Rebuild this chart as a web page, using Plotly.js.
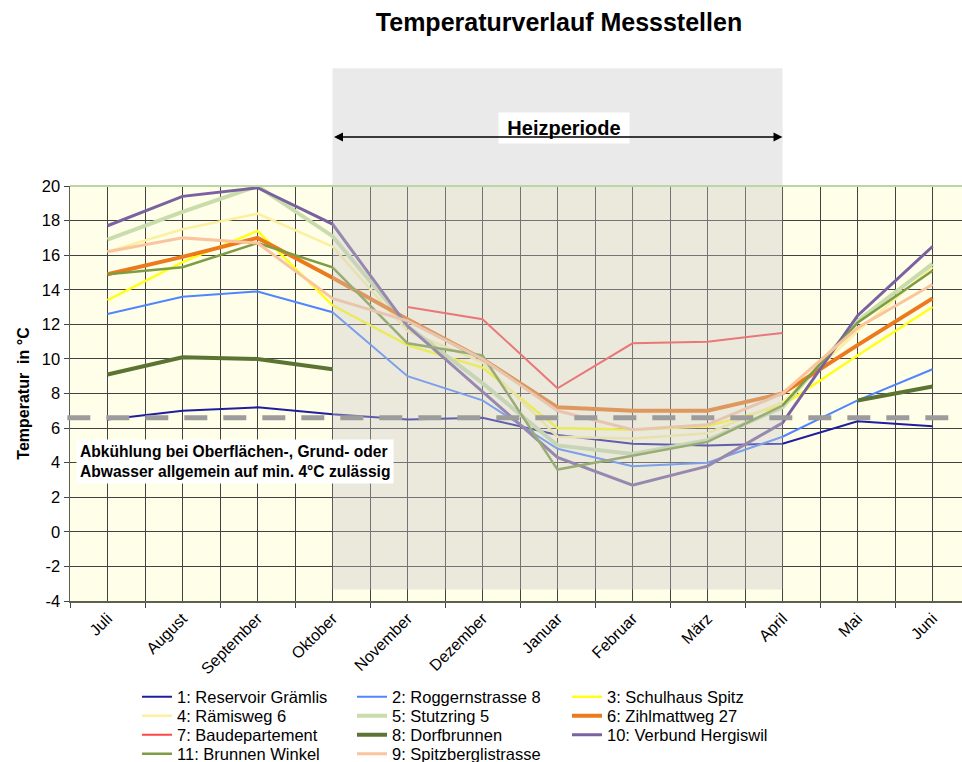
<!DOCTYPE html>
<html>
<head>
<meta charset="utf-8">
<script src="https://cdn.plot.ly/plotly-3.0.1.min.js"></script>
<style>html,body{margin:0;padding:0;background:#fff;}#chart{width:962px;height:762px;}</style>
</head>
<body>
<div id="chart"></div>
<script>
const months = ['Juli','August','September','Oktober','November','Dezember','Januar','Februar','März','April','Mai','Juni'];
const yTicks = [-4, -2, 0, 2, 4, 6, 8, 10, 12, 14, 16, 18, 20];

const reservoirGraemlis   = [6.5, 7.0, 7.2, 6.8, 6.5, 6.6, 5.6, 5.1, 5.0, 5.1, 6.4, 6.1];
const roggernstrasse8     = [12.6, 13.6, 13.9, 12.7, 9.0, 7.6, 4.8, 3.8, 4.0, 5.5, 7.6, 9.4];
const schulhausSpitz      = [13.4, 15.6, 17.4, 13.1, 10.8, 9.5, 6.0, 5.9, 6.1, 7.3, 10.2, 13.0];
const raemisweg6          = [16.2, 17.5, 18.4, 16.5, 11.6, 9.8, 5.5, 5.4, 5.7, 7.5, 11.6, 15.3];
const stutzring5          = [16.9, 18.5, 20.0, 17.1, 11.9, 8.6, 5.0, 4.5, 5.3, 7.2, 12.2, 15.5];
const zihlmattweg27       = [14.9, 15.9, 17.0, 14.7, 12.3, 10.0, 7.2, 7.0, 7.0, 8.0, 10.8, 13.5];
const baudepartement      = [null, null, null, null, 13.0, 12.3, 8.3, 10.9, 11.0, 11.5, null, null];
const dorfbrunnen         = [9.1, 10.1, 10.0, 9.4, null, null, null, null, null, null, 7.6, 8.4];
const verbundHergiswil    = [17.7, 19.4, 19.9, 17.8, 11.9, 8.1, 4.3, 2.7, 3.8, 6.3, 12.5, 16.5];
const brunnenWinkel       = [14.9, 15.3, 16.7, 15.3, 10.9, 10.2, 3.6, 4.4, 5.2, 7.3, 12.1, 15.1];
const spitzberglistrasse  = [16.2, 17.0, 16.7, 13.5, 12.2, 10.0, 7.0, 5.9, 6.2, 8.0, 11.8, 14.3];

const limitValue = 6.6;
const heatStart = 'Oktober';
const heatEnd = 'April';

const FONT = 'Liberation Sans, Arial, Helvetica, sans-serif';

const series = [
  {name: '1: Reservoir Grämlis', y: reservoirGraemlis, color: '#1F1F9E', width: 2, legend: 'legend'},
  {name: '2: Roggernstrasse 8', y: roggernstrasse8, color: '#4F86FF', width: 2, legend: 'legend'},
  {name: '3: Schulhaus Spitz', y: schulhausSpitz, color: '#FFFF1A', width: 2.5, legend: 'legend'},
  {name: '4: Rämisweg 6', y: raemisweg6, color: '#FBF0A0', width: 2.5, legend: 'legend2'},
  {name: '5: Stutzring 5', y: stutzring5, color: '#C9DCAB', width: 4, legend: 'legend2'},
  {name: '6: Zihlmattweg 27', y: zihlmattweg27, color: '#EC7A1C', width: 4, legend: 'legend2'},
  {name: '7: Baudepartement', y: baudepartement, color: '#FF4646', width: 2, legend: 'legend3'},
  {name: '8: Dorfbrunnen', y: dorfbrunnen, color: '#5C7433', width: 4, legend: 'legend3'},
  {name: '10: Verbund Hergiswil', y: verbundHergiswil, color: '#7A62A0', width: 3, legend: 'legend3'},
  {name: '11: Brunnen Winkel', y: brunnenWinkel, color: '#7D9C43', width: 2.5, legend: 'legend4'},
  {name: '9: Spitzberglistrasse', y: spitzberglistrasse, color: '#FAC49E', width: 3, legend: 'legend4'}
];

const data = series.map(s => ({
  type: 'scatter', mode: 'lines', x: months, y: s.y, name: s.name,
  legend: s.legend, connectgaps: false,
  line: {color: s.color, width: s.width}
}));

const gridColor = '#424242';
const centerGrid = months.map(m => ({
  type: 'line', xref: 'x', yref: 'paper', x0: m, x1: m, y0: 0, y1: 1,
  layer: 'between', line: {color: gridColor, width: 1}
}));

const legendBase = {
  orientation: 'h', xref: 'container', yref: 'container',
  x: 137/962, xanchor: 'left', yanchor: 'middle',
  entrywidth: 170, entrywidthmode: 'pixels',
  bgcolor: 'rgba(0,0,0,0)', borderwidth: 0,
  font: {family: FONT, size: 16.5, color: '#000'},
  itemclick: false
};

const layout = {
  width: 962, height: 762,
  margin: {l: 70, r: 0, t: 186, b: 161},
  paper_bgcolor: '#ffffff',
  plot_bgcolor: '#FFFEE9',
  font: {family: FONT, color: '#000'},
  title: {
    text: '<b>Temperaturverlauf Messstellen</b>',
    font: {family: FONT, size: 25, color: '#000'},
    xref: 'container', yref: 'container', x: 559/962, xanchor: 'center',
    y: 1 - 22/762, yanchor: 'middle'
  },
  xaxis: {
    type: 'category', range: [-0.5, 11.393], fixedrange: true,
    tickson: 'boundaries', showgrid: true, gridcolor: gridColor, gridwidth: 1,
    ticks: 'outside', ticklen: 5, tickcolor: '#444', tickangle: -45,
    tickfont: {family: FONT, size: 16, color: '#000'},
    showline: true, linecolor: '#5d604e', linewidth: 2,
    zeroline: false
  },
  yaxis: {
    range: [-4, 20], tickmode: 'array', tickvals: yTicks, ticktext: yTicks.map(v => String(v)),
    fixedrange: true,
    showgrid: true, gridcolor: gridColor, gridwidth: 1,
    ticks: 'outside', ticklen: 5, tickcolor: '#444',
    tickfont: {family: FONT, size: 16.5, color: '#000'},
    showline: true, linecolor: '#5d604e', linewidth: 1.5,
    zeroline: false,
    title: {text: '<b>Temperatur  in °C</b>', font: {family: FONT, size: 16, color: '#000'}, standoff: 8}
  },
  showlegend: true,
  legend: Object.assign({}, legendBase, {y: 1 - 697/762}),
  legend2: Object.assign({}, legendBase, {y: 1 - 716/762}),
  legend3: Object.assign({}, legendBase, {y: 1 - 735/762}),
  legend4: Object.assign({}, legendBase, {y: 1 - 754/762}),
  shapes: centerGrid.concat([
    {type: 'rect', xref: 'x', yref: 'paper', x0: heatStart, x1: heatEnd,
     y0: 0.028, y1: 1.284, layer: 'above', line: {width: 0},
     fillcolor: 'rgba(200,200,200,0.38)'},
    {type: 'line', xref: 'paper', yref: 'y', x0: -0.003, x1: 1, y0: limitValue, y1: limitValue,
     layer: 'above', line: {color: '#9c9c9c', width: 5, dash: '23px,16px'}},
    {type: 'line', xref: 'paper', yref: 'paper', x0: 0, x1: 1, y0: 1, y1: 1,
     layer: 'above', line: {color: '#BCD6A2', width: 2}}
  ]),
  annotations: [
    {text: '<b>Abkühlung bei Oberflächen-, Grund- oder<br>Abwasser allgemein auf min. 4°C zulässig</b>',
     xref: 'paper', yref: 'paper', x: 6/892, y: (601-439)/415, xanchor: 'left', yanchor: 'top',
     align: 'left', showarrow: false, bgcolor: '#ffffff', borderpad: 3,
     font: {family: FONT, size: 15.6, color: '#000'}},
    {text: '<b>Heizperiode</b>', xref: 'paper', yref: 'paper',
     x: (564-70)/892, y: (601-128)/415, xanchor: 'center', yanchor: 'middle',
     showarrow: false, bgcolor: '#ffffff', width: 126, height: 26, borderpad: 2,
     font: {family: FONT, size: 20, color: '#000'}},
    {text: '', xref: 'x', yref: 'paper', x: heatEnd, y: (601-137)/415,
     axref: 'x', ax: heatStart, ayref: 'pixel', ay: 0,
     showarrow: true, arrowhead: 2, startarrowhead: 2, arrowside: 'end+start',
     arrowsize: 1.2, startarrowsize: 1.2, arrowwidth: 1.5, arrowcolor: '#000', standoff: 0, startstandoff: 0}
  ]
};

Plotly.newPlot('chart', data, layout, {displayModeBar: false, staticPlot: true});
</script>
</body>
</html>
